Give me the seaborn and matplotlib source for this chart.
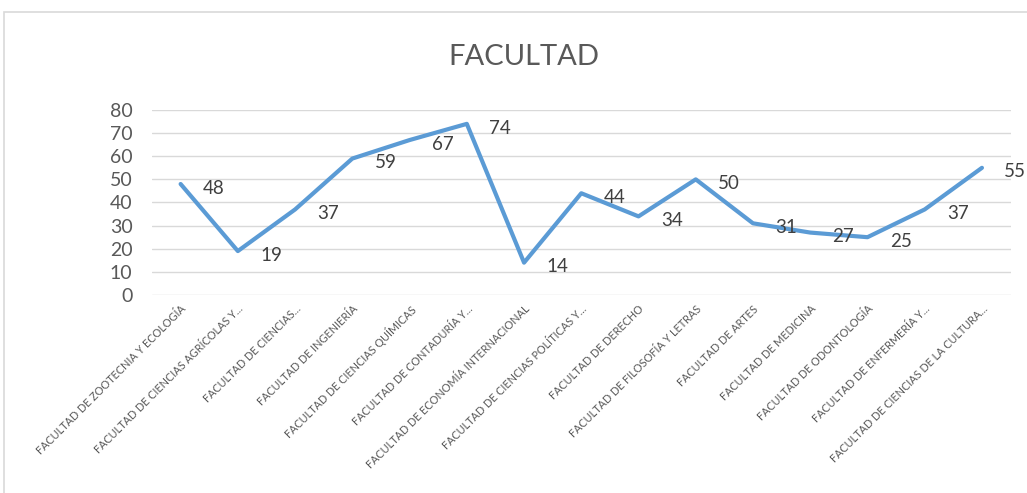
import matplotlib
matplotlib.use("Agg")
import matplotlib.pyplot as plt
import seaborn as sns
import pandas as pd
from matplotlib.patches import Rectangle

facultades = [
    "FACULTAD DE ZOOTECNIA Y ECOLOGÍA",
    "FACULTAD DE CIENCIAS AGRÍCOLAS Y...",
    "FACULTAD DE CIENCIAS...",
    "FACULTAD DE INGENIERÍA",
    "FACULTAD DE CIENCIAS QUÍMICAS",
    "FACULTAD DE CONTADURÍA Y...",
    "FACULTAD DE ECONOMÍA INTERNACIONAL",
    "FACULTAD DE CIENCIAS POLÍTICAS Y...",
    "FACULTAD DE DERECHO",
    "FACULTAD DE FILOSOFÍA Y LETRAS",
    "FACULTAD DE ARTES",
    "FACULTAD DE MEDICINA",
    "FACULTAD DE ODONTOLOGÍA",
    "FACULTAD DE ENFERMERÍA Y...",
    "FACULTAD DE CIENCIAS DE LA CULTURA...",
]
valores = [48, 19, 37, 59, 67, 74, 14, 44, 34, 50, 31, 27, 25, 37, 55]

df = pd.DataFrame({"facultad": facultades, "valor": valores})

sns.set_style("white")
plt.rcParams["font.family"] = ["Lato", "DejaVu Sans"]

fig = plt.figure(figsize=(10.27, 4.93), dpi=100)
ax = fig.add_axes([0.148, 0.4016, 0.836, 0.3753])

# chart border
fig.patches.append(Rectangle((4 / 1027, -0.01), 1.02, 1 - 12 / 493 + 0.01,
                             transform=fig.transFigure, fill=False,
                             edgecolor="#d9d9d9", linewidth=1.2))

sns.lineplot(data=df, x="facultad", y="valor", sort=False, ax=ax,
             color="#5B9BD5", linewidth=3)

for i, v in enumerate(valores):
    ax.annotate(str(v), (i, v), xytext=(16, -3), textcoords="offset points",
                ha="left", va="center", fontsize=13.5, color="#404040")

ax.set_xlim(-0.5, len(facultades) - 0.5)
ax.set_ylim(0, 80)
ax.set_yticks(range(0, 81, 10))
ax.yaxis.grid(True, color="#d9d9d9", linewidth=1)
ax.xaxis.grid(False)
for s in ax.spines.values():
    s.set_visible(False)
ax.tick_params(axis="y", labelsize=14, labelcolor="#595959", length=0, pad=14)
ax.tick_params(axis="x", labelsize=7.8, labelcolor="#595959", length=0, pad=6)
plt.setp(ax.get_xticklabels(), rotation=45, ha="right", rotation_mode="anchor")
ax.set_xlabel("")
ax.set_ylabel("")

fig.text(0.51, 0.885, "FACULTAD", ha="center", va="center",
         fontsize=21, color="#595959")

fig.savefig("out.png", dpi=100)
